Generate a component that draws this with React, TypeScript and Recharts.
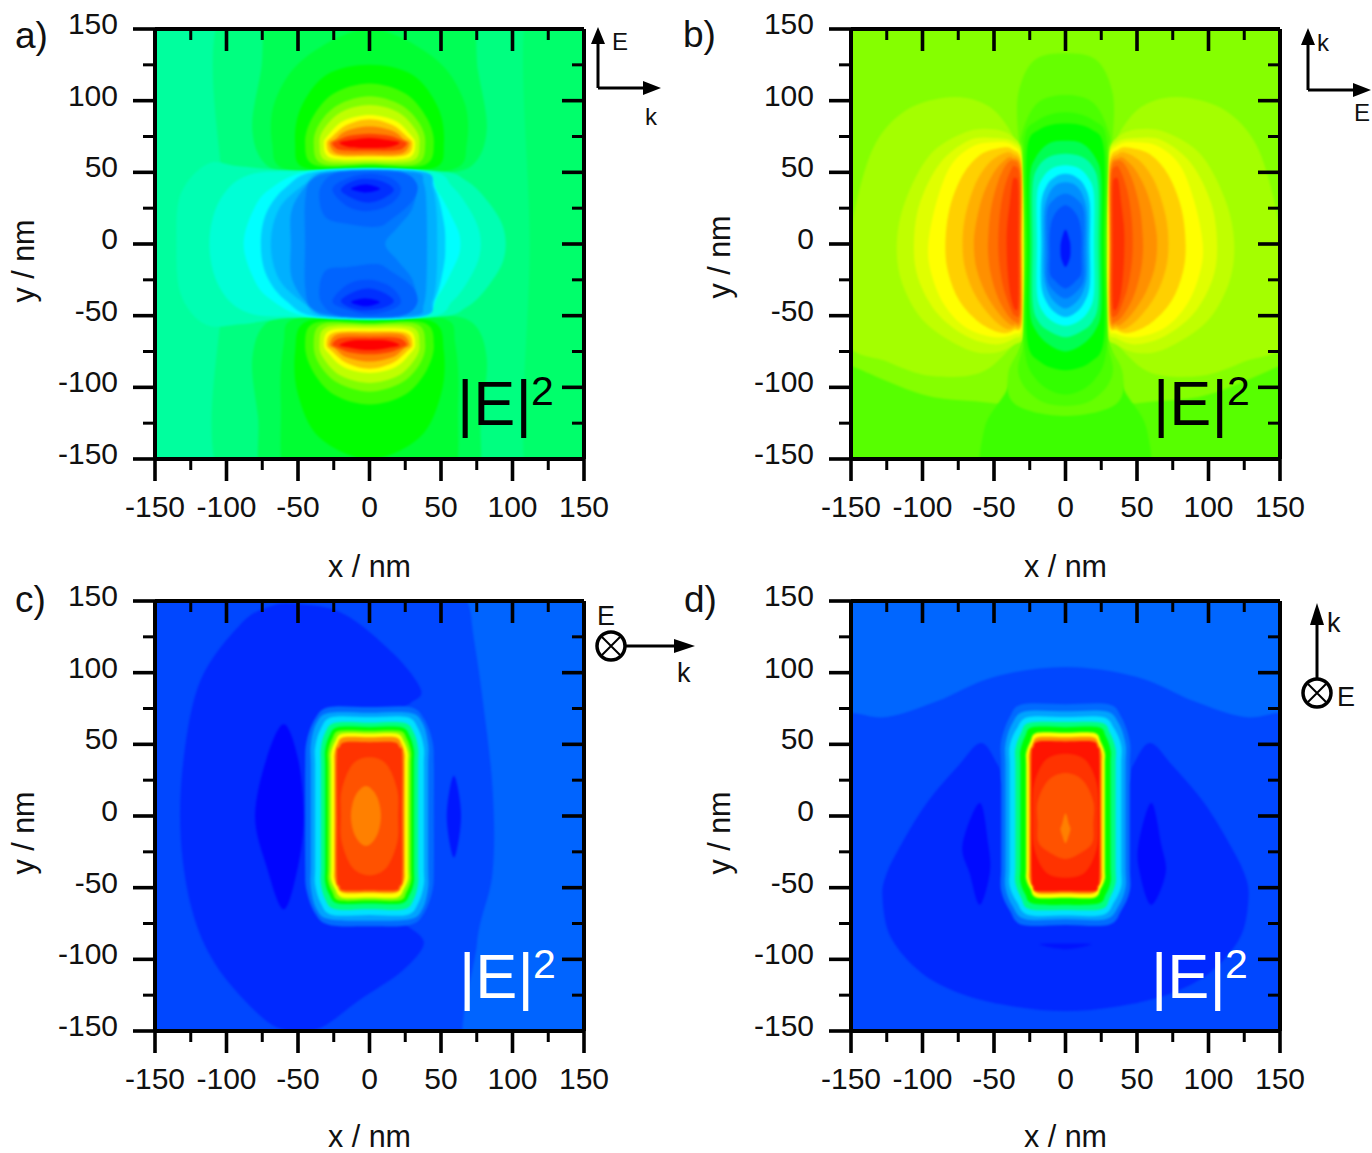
import { ScatterChart, Scatter, XAxis, YAxis } from "recharts";

type Pt = [number, number];

const FONT = "'Liberation Sans', Arial, sans-serif";

const tickValues = [-150, -125, -100, -75, -50, -25, 0, 25, 50, 75, 100, 125, 150];
const axisAnchor = [{ x: -150, y: -150 }, { x: 150, y: 150 }];

// right half of an outline, top to bottom, closed through its left-hand twin
const both = (half: Pt[]): Pt[] => [
  ...half,
  ...half
    .filter(([x]) => x !== 0)
    .reverse()
    .map(([x, y]): Pt => [-x, y]),
];
const flipY = (pts: Pt[]): Pt[] => pts.map(([x, y]): Pt => [x, -y]);
const flipX = (pts: Pt[]): Pt[] => pts.map(([x, y]): Pt => [-x, y]);

const frame: Pt[] = [[-175, 175], [175, 175], [175, -175], [-175, -175]];

// field levels run 0 (blue) to 1 (red); each contour is painted over the one before it

// ---- panel a
const aLobeLevels = [0.5625, 0.625, 0.6875, 0.75, 0.8125, 0.875, 0.9375, 1];
const aLobes: Pt[][] = [
  both([[0, 112], [25, 105], [40, 88], [45, 70], [38, 55], [0, 55]]),
  both([[0, 103], [22, 97], [35, 84], [39, 70], [33, 56], [0, 56]]),
  both([[0, 97], [20, 92], [32, 80], [35, 70], [30, 58], [0, 57]]),
  both([[0, 90], [18, 86], [28, 77], [32, 70], [27, 60], [0, 59]]),
  both([[0, 87], [16, 83], [26, 75], [30, 70], [25, 62], [0, 61]]),
  both([[0, 82], [16, 79], [24, 73], [28, 70], [22, 63], [0, 62.5]]),
  both([[0, 77], [14, 75.5], [23, 72], [26, 70], [20, 65.5], [0, 65]]),
  both([[0, 74], [13, 72.5], [21, 70.5], [13, 67.5], [0, 67]]),
];
const aLevels = [
  0.345, 0.375, 0.395, 0.417, 0.417, 0.45, 0.45, 0.5, 0.5,
  ...aLobeLevels, ...aLobeLevels,
  0.325, 0.29, 0.25, 0.2, 0.1725, 0.141, 0.118,
  0.098, 0.078, 0.047, 0,
  0.098, 0.078, 0.047, 0,
];
const aContours: Pt[][] = [
  frame,
  [[-97, 175], [60, 175], [175, 175], [175, 0], [175, -175], [60, -175], [-98, -175], [-100, 0]],
  [[112, 175], [175, 175], [175, -175], [112, -175], [112, 0]],
  both([[0, 175], [65, 175], [76, 120], [82, 80], [72, 55], [45, 49], [0, 48]]),
  both([[0, -48], [45, -49], [72, -55], [82, -80], [78, -120], [70, -175], [0, -175]]),
  both([[0, 150], [45, 130], [66, 100], [68, 70], [58, 52], [0, 50]]),
  both([[0, -50], [52, -52], [60, -70], [62, -110], [55, -175], [0, -175]]),
  both([[0, 125], [30, 118], [48, 95], [52, 70], [45, 53], [0, 53]]),
  both([[0, -53], [44, -54], [52, -75], [50, -105], [35, -135], [0, -150]]),
  ...aLobes,
  ...aLobes.map(flipY),
  [[-135, 0], [-132, 35], [-113, 56], [-90, 54], [-45, 51], [45, 51], [68, 44], [84, 28], [94, 10], [94, -10], [84, -28], [68, -44], [45, -51], [-45, -51], [-90, -56], [-115, -56], [-132, -35]],
  [[-112, 0], [-105, 30], [-85, 48], [-45, 51], [40, 51], [58, 40], [70, 24], [77, 8], [77, -8], [70, -24], [58, -40], [40, -51], [-45, -51], [-85, -48], [-105, -30]],
  [[-88, 0], [-82, 22], [-70, 38], [-40, 51], [33, 51], [48, 36], [58, 18], [63, 6], [63, -6], [58, -18], [48, -36], [33, -51], [-40, -51], [-70, -38], [-82, -22]],
  [[-76, 0], [-72, 22], [-58, 40], [-35, 51], [34, 51], [46, 38], [52, 15], [53, 0], [52, -15], [46, -38], [34, -51], [-35, -51], [-58, -40], [-72, -22]],
  [[-69, 0], [-63, 25], [-45, 42], [-30, 50], [36, 50], [44, 40], [47, 20], [47, -20], [44, -40], [36, -50], [-30, -50], [-45, -42], [-63, -25]],
  [[-55, 0], [-54, 25], [-40, 45], [-25, 50], [30, 50], [38, 42], [40, 20], [40, -20], [38, -42], [30, -50], [-25, -50], [-40, -45], [-54, -25]],
  [[-45, 0], [-45, 30], [-40, 45], [-20, 50], [20, 50], [32, 42], [30, 25], [20, 12], [11, 0], [20, -12], [30, -25], [32, -42], [20, -50], [-20, -50], [-40, -45], [-45, -30]],
  [[-35, 30], [-30, 18], [-15, 14], [5, 12], [15, 17], [30, 30], [33, 42], [20, 50], [-20, 50], [-33, 42]],
  [[-26, 38], [-15, 26], [0, 23], [15, 28], [22, 38], [15, 46], [0, 49], [-15, 46]],
  [[-20, 38], [-10, 31], [0, 29], [10, 32], [17, 38], [8, 44], [-8, 45]],
  [[-13, 38.5], [-4, 36], [4, 37], [7, 39], [-3, 41.5]],
  [[-35, -30], [-30, -18], [-15, -16], [5, -14], [15, -19], [30, -30], [33, -42], [20, -50], [-20, -50], [-33, -42]],
  [[-26, -40], [-15, -28], [0, -25], [15, -30], [22, -40], [15, -46], [0, -49], [-15, -46]],
  [[-20, -40], [-10, -33], [0, -31], [10, -34], [17, -40], [8, -45], [-8, -46]],
  [[-13, -40.5], [-4, -38], [4, -39], [7, -41], [-3, -43.5]],
];

// ---- panel b
const bLobeLevels = [0.661, 0.688, 0.72, 0.75, 0.796, 0.827, 0.859, 0.89, 0.92, 0.953];
const bLobes: Pt[][] = [
  [[32, 60], [45, 88], [62, 100], [85, 102], [112, 93], [133, 70], [146, 30], [152, -10], [153, -68], [125, -82], [95, -92], [60, -90], [38, -72], [30, -60], [30, 0]],
  [[29, 60], [36, 74], [50, 80], [70, 78], [95, 62], [112, 30], [118, 0], [114, -28], [98, -55], [70, -73], [50, -76], [36, -70], [29, -60], [29, 0]],
  [[29.5, 58], [36, 71], [50, 74], [68, 72], [88, 56], [102, 28], [106, 0], [103, -24], [90, -48], [70, -64], [50, -70], [36, -66], [29.5, -57], [29.5, 0]],
  [[30, 56], [37, 69], [50, 71], [65, 68], [80, 55], [90, 30], [96, 0], [94, -20], [85, -42], [70, -58], [50, -65], [36, -63], [30, -55], [30, 0]],
  [[30.5, 55], [37, 66], [46, 67], [60, 62], [72, 48], [81, 25], [84, 0], [82, -20], [74, -40], [60, -55], [45, -62], [36, -60], [30.5, -54], [30.5, 0]],
  [[31, 53], [37, 63], [44, 63], [54, 56], [63, 42], [70, 20], [72, 0], [70, -18], [63, -36], [52, -51], [42, -59], [36, -58], [31, -53], [31, 0]],
  [[31.5, 52], [37, 60], [42, 59], [50, 50], [58, 33], [63, 12], [64, -3], [62, -18], [56, -34], [47, -48], [39, -56], [35, -56], [31.5, -52], [31.5, 0]],
  [[32, 50], [36, 58], [41, 56], [47, 44], [52, 25], [54, 5], [54, -8], [52, -22], [47, -38], [40, -50], [35, -54], [32, -50], [32, 0]],
  [[32, 46], [35, 54], [38, 52], [43, 38], [46, 20], [47, 0], [46, -16], [43, -32], [38, -46], [35, -50], [32, -46], [32, 0]],
  [[33, 40], [35, 46], [37, 44], [39, 28], [41, 10], [41, -8], [40, -24], [38, -38], [35, -46], [33, -40], [33, 0]],
];
const bLevels = [
  0.585, 0.63, 0.56,
  ...bLobeLevels.flatMap((v) => [v, v]),
  0.6, 0.575, 0.55, 0.5, 0.42, 0.33, 0.25, 0.18, 0.14, 0.11, 0.08, 0.02,
];
const bContours: Pt[][] = [
  frame,
  [[-175, 175], [175, 175], [175, -75], [150, -85], [100, -105], [60, -110], [0, -115], [-60, -110], [-100, -105], [-150, -85], [-175, -75]],
  both([[25, -60], [40, -100], [57, -130], [55, -175], [0, -175]]).concat([[0, -60]]),
  ...bLobes.flatMap((l) => [l, flipX(l)]),
  both([[0, 133], [22, 128], [33, 105], [33, 75], [30, 60], [28, 0], [28, -60], [40, -90], [35, -112], [0, -120]]),
  both([[0, 104], [20, 98], [31, 75], [28, 60], [28, 0], [28, -60], [33, -90], [20, -108], [0, -113]]),
  both([[0, 92], [20, 86], [29, 70], [28, 0], [29, -70], [20, -95], [0, -105]]),
  both([[0, 84], [18, 80], [27, 65], [27, 0], [27, -65], [18, -82], [0, -88]]),
  both([[0, 72], [12, 70], [21, 60], [25, 45], [25, 0], [25, -45], [21, -60], [12, -70], [0, -75]]),
  both([[0, 63], [11, 61], [19, 54], [23, 40], [23, 0], [23, -40], [19, -54], [11, -61], [0, -65]]),
  both([[0, 55], [9, 53], [16, 46], [20, 34], [20, 0], [20, -34], [16, -47], [9, -54], [0, -57]]),
  both([[0, 49], [7, 47], [13, 41], [17, 28], [17, 0], [17, -28], [13, -41], [7, -48], [0, -51]]),
  both([[0, 43], [7, 41], [12, 34], [15, 22], [15, 0], [15, -22], [12, -34], [7, -41], [0, -45]]),
  both([[0, 35], [8, 31], [13, 22], [13, -5], [13, -24], [8, -33], [0, -38]]),
  both([[0, 27], [8, 20], [11, 8], [11, -8], [11, -20], [8, -25], [0, -31]]),
  both([[0, 10], [3, 2], [3.5, -4], [3, -10], [0, -16]]),
];

// ---- panel c
const cLevels = [0.07, 0.098, 0.04, 0.005, 0.022, 0.105, 0.16, 0.22, 0.375, 0.5, 0.62, 0.75, 0.86, 0.95, 0.92, 0.875];
const cContours: Pt[][] = [
  frame,
  [[71, 175], [175, 175], [175, -175], [72, -175], [75, -90], [86, -40], [86, 20], [78, 90], [71, 140]],
  [[-52, 148], [-18, 141], [17, 113], [36, 88], [29, 79], [24, 76], [10, 65], [0, 40], [0, -40], [10, -65], [24, -74], [27, -77], [38, -89], [23, -108], [-8, -129], [-35, -148], [-60, -149], [-80, -136], [-108, -103], [-124, -66], [-132, -15], [-130, 40], [-118, 95], [-90, 134], [-70, 146]],
  [[-60, 64], [-50, 40], [-46, 0], [-50, -35], [-60, -65], [-72, -35], [-80, 0], [-72, 40]],
  [[59, 28], [64, 0], [59, -29], [54, 0]],
  both([[0, 76], [28, 76], [38, 68], [44, 52], [45, 35], [45, 0], [45, -35], [44, -52], [38, -68], [28, -76], [0, -77]]),
  both([[0, 72], [28, 72], [37, 65], [41, 50], [41, 35], [41, 0], [41, -35], [41, -50], [37, -65], [28, -72], [0, -73]]),
  both([[0, 69], [26, 69], [34, 61], [38, 48], [38, 35], [38, 0], [38, -35], [38, -48], [34, -61], [26, -69], [0, -69]]),
  both([[0, 65], [24, 65], [31, 58], [34, 47], [34, 35], [34, 0], [34, -35], [34, -47], [31, -58], [24, -65], [0, -65]]),
  both([[0, 62], [22, 62], [28, 56], [31, 46], [31, 35], [31, 0], [31, -35], [31, -46], [28, -55], [22, -61], [0, -61]]),
  both([[0, 59.5], [21, 59.5], [26, 54], [29, 45], [29, 35], [29, 0], [29, -35], [29, -45], [26, -53], [21, -59], [0, -59]]),
  both([[0, 57.5], [19, 57.5], [24, 52], [27, 44], [27, 35], [27, 0], [27, -35], [27, -44], [24, -51], [19, -57], [0, -57]]),
  both([[0, 55], [18, 55], [22.5, 50], [24.5, 43], [24.5, 35], [24.5, 0], [24.5, -35], [24.5, -43], [22.5, -49], [18, -53.5], [0, -53.5]]),
  both([[0, 51.5], [17, 51.5], [21, 48], [23, 42], [23, 0], [23, -42], [21, -49], [18, -52], [0, -52]]),
  both([[0, 41], [12, 36], [19.5, 18], [20, 0], [19.5, -18], [12, -36], [0, -41.5]]),
  [[-2.5, 21], [5, 14], [8, 0], [5, -14], [-2.5, -21], [-10, -14], [-13, 0], [-10, 14]],
];

// ---- panel d
const dLevels = [0.07, 0.1, 0.04, 0.01, 0.01, 0.02, 0.105, 0.16, 0.22, 0.375, 0.5, 0.75, 0.86, 0.98, 0.95, 0.92, 0.875];
const dContours: Pt[][] = [
  frame,
  [[-175, 72], [-150, 72], [-125, 69], [-90, 80], [-50, 97], [0, 104], [50, 97], [90, 80], [125, 69], [150, 72], [175, 72], [175, 175], [-175, 175]],
  both([[0, 20], [40, 20], [47, 35], [59, 51], [75, 35], [97, 9], [115, -20], [125, -40], [128, -57], [122, -85], [100, -110], [70, -125], [35, -133], [0, -136]]),
  [[-60, 9], [-54, -20], [-53, -40], [-60, -62], [-67, -40], [-72, -20]],
  [[60, 9], [67, -20], [70, -40], [60, -62], [52, -40], [51, -20]],
  [[-18, -89.5], [0, -89], [18, -89.5], [0, -93]],
  both([[0, 78], [30, 78], [39, 69], [45, 52], [45, 35], [45, 0], [45, -35], [45, -52], [39, -66], [30, -76], [0, -76]]),
  both([[0, 73], [28, 73], [37, 65], [42, 50], [42, 35], [42, 0], [42, -35], [42, -50], [37, -63], [28, -72], [0, -72]]),
  both([[0, 69], [26, 69], [34, 61], [39, 49], [39, 35], [39, 0], [39, -35], [39, -49], [34, -60], [26, -69], [0, -69.5]]),
  both([[0, 65.5], [25, 65], [31, 58], [35, 47], [35, 35], [35, 0], [35, -35], [35, -47], [31, -57], [25, -65], [0, -65.5]]),
  both([[0, 62], [23, 62], [28, 56], [31.5, 46], [31.5, 35], [31.5, 0], [31.5, -35], [31.5, -46], [28, -55], [23, -61], [0, -62]]),
  both([[0, 58], [20, 58], [24.5, 52], [27.5, 44], [27.5, 35], [27.5, 0], [27.5, -35], [27.5, -44], [24.5, -51], [20, -57], [0, -57]]),
  both([[0, 55], [19, 55], [23, 50], [25.5, 43], [25.5, 35], [25.5, 0], [25.5, -35], [25.5, -43], [23, -49], [19, -54], [0, -54]]),
  both([[0, 52], [19, 52], [22.5, 48], [24, 42], [24, 0], [24, -42], [22.5, -49], [20, -52.5], [0, -52.5]]),
  both([[0, 43.5], [14, 39], [22, 22], [23, 0], [22, -22], [14, -39], [0, -43]]),
  both([[0, 30], [12, 25], [19.5, 10], [19.5, -5], [19, -18], [12, -25], [0, -30]]),
  both([[0, 2], [2.5, -6], [3.5, -9], [2.5, -13], [0, -19]]),
];

const panels = [
  { id: "a", left: 0, top: 0, yTitle: 232, xTitle: 118, levels: aLevels, contours: aContours },
  { id: "b", left: 696, top: 0, yTitle: 228, xTitle: 118, levels: bLevels, contours: bContours },
  { id: "c", left: 0, top: 572, yTitle: 232, xTitle: 115.5, levels: cLevels, contours: cContours },
  { id: "d", left: 696, top: 572, yTitle: 232, xTitle: 115.5, levels: dLevels, contours: dContours },
];

// blue - cyan - green - yellow - red, the map the figure uses
const levelColor = (t: number) => {
  const c = (v: number) => Math.round(Math.max(0, Math.min(1, v)) * 255);
  if (t < 0.25) return `rgb(0,${c(t / 0.25)},255)`;
  if (t < 0.5) return `rgb(0,255,${c((0.5 - t) / 0.25)})`;
  if (t < 0.75) return `rgb(${c((t - 0.5) / 0.25)},255,0)`;
  return `rgb(255,${c((1 - t) / 0.25)},0)`;
};

// closed Catmull-Rom through the scaled outline points
const closedPath = (pts: { x: number; y: number }[]) => {
  const n = pts.length;
  let d = `M${pts[0].x},${pts[0].y}`;
  for (let i = 0; i < n; i++) {
    const p0 = pts[(i - 1 + n) % n];
    const p1 = pts[i];
    const p2 = pts[(i + 1) % n];
    const p3 = pts[(i + 2) % n];
    d += `C${p1.x + (p2.x - p0.x) / 6},${p1.y + (p2.y - p0.y) / 6} ${p2.x - (p3.x - p1.x) / 6},${p2.y - (p3.y - p1.y) / 6} ${p2.x},${p2.y}`;
  }
  return d + "Z";
};

const contourFill = (color: string) => (props: any) => (
  <path d={closedPath(props.points)} fill={color} stroke="none" style={{ filter: "blur(1px)" }} />
);

const NoDot = () => <g />;

const isMajor = (v: number) => v % 50 === 0;
const tickStroke = (v: number) => (isMajor(v) ? 3.6 : 3);

const BottomTick = ({ x, y, payload }: any) => (
  <g>
    <line x1={x} x2={x} y1={y} y2={y + (isMajor(payload.value) ? 22 : 11)} stroke="#000" strokeWidth={tickStroke(payload.value)} />
    {isMajor(payload.value) && (
      <text x={x} y={y + 58} textAnchor="middle" fontFamily={FONT} fontSize={30} fill="#111">
        {payload.value}
      </text>
    )}
  </g>
);
const TopTick = ({ x, y, payload }: any) => (
  <line x1={x} x2={x} y1={y} y2={y + (isMajor(payload.value) ? 22 : 11)} stroke="#000" strokeWidth={tickStroke(payload.value)} />
);
const LeftTick = ({ x, y, payload }: any) => (
  <g>
    <line x1={x} x2={x - (isMajor(payload.value) ? 22 : 12)} y1={y} y2={y} stroke="#000" strokeWidth={tickStroke(payload.value)} />
    {isMajor(payload.value) && (
      <text x={x - 37} y={y + 5} textAnchor="end" fontFamily={FONT} fontSize={30} fill="#111">
        {payload.value}
      </text>
    )}
  </g>
);
const RightTick = ({ x, y, payload }: any) => (
  <line x1={x} x2={x - (isMajor(payload.value) ? 22 : 12)} y1={y} y2={y} stroke="#000" strokeWidth={tickStroke(payload.value)} />
);

const axisLine = { stroke: "#000", strokeWidth: 4 };
const chartSize = { width: 676, height: 590 };
const layer = { position: "absolute", left: 0, top: 0 } as const;

// filled contours underneath, drawn through hidden axes with the same plot box
const ContourLayer = ({ levels, contours }: { levels: number[]; contours: Pt[][] }) => (
  <ScatterChart {...chartSize} margin={{ top: 29, right: 92, bottom: 131, left: 155 }}>
    <XAxis xAxisId="bottom" dataKey="x" type="number" domain={[-150, 150]} allowDataOverflow hide />
    <YAxis yAxisId="left" dataKey="y" type="number" domain={[-150, 150]} allowDataOverflow hide />
    {contours.map((pts, i) => (
      <Scatter
        key={i}
        xAxisId="bottom"
        yAxisId="left"
        data={pts.map(([x, y]) => ({ x, y }))}
        line={contourFill(levelColor(levels[i]))}
        shape={NoDot}
        isAnimationActive={false}
      />
    ))}
  </ScatterChart>
);

// the frame and its ticks sit on top of the contours
const AxisLayer = ({ yTitle, xTitle }: { yTitle: number; xTitle: number }) => (
  <ScatterChart {...chartSize} margin={{ top: 28, right: 91, bottom: 0, left: 0 }}>
    <Scatter xAxisId="bottom" yAxisId="left" data={axisAnchor} shape={NoDot} isAnimationActive={false} />
    <Scatter xAxisId="top" yAxisId="right" data={axisAnchor} shape={NoDot} isAnimationActive={false} />
    <XAxis
      xAxisId="bottom"
      dataKey="x"
      type="number"
      orientation="bottom"
      domain={[-150, 150]}
      ticks={tickValues}
      interval={0}
      height={131}
      tickSize={0}
      tickMargin={0}
      tickLine={false}
      axisLine={axisLine}
      tick={BottomTick}
      label={({ viewBox }: any) => (
        <text x={viewBox.x + viewBox.width / 2} y={viewBox.y + xTitle} textAnchor="middle" fontFamily={FONT} fontSize={30.5} fill="#111">
          x / nm
        </text>
      )}
    />
    <XAxis
      xAxisId="top"
      dataKey="x"
      type="number"
      orientation="top"
      domain={[-150, 150]}
      ticks={tickValues}
      interval={0}
      height={1}
      tickSize={0}
      tickMargin={0}
      tickLine={false}
      axisLine={axisLine}
      tick={TopTick}
    />
    <YAxis
      yAxisId="left"
      dataKey="y"
      type="number"
      orientation="left"
      domain={[-150, 150]}
      ticks={tickValues}
      interval={0}
      width={155}
      tickSize={0}
      tickMargin={0}
      tickLine={false}
      axisLine={axisLine}
      tick={LeftTick}
      label={({ viewBox }: any) => (
        <text
          transform={`translate(${viewBox.x + 33.5},${viewBox.y + yTitle}) rotate(-90)`}
          textAnchor="middle"
          fontFamily={FONT}
          fontSize={30.5}
          fill="#111"
        >
          y / nm
        </text>
      )}
    />
    <YAxis
      yAxisId="right"
      dataKey="y"
      type="number"
      orientation="right"
      domain={[-150, 150]}
      ticks={tickValues}
      interval={0}
      width={1}
      tickSize={0}
      tickMargin={0}
      tickLine={false}
      axisLine={axisLine}
      tick={RightTick}
    />
  </ScatterChart>
);

const Note = ({ x, y, size, fill = "#111", children }: any) => (
  <text x={x} y={y} fontFamily={FONT} fontSize={size} fill={fill}>
    {children}
  </text>
);

const FieldLabel = ({ x, y, fill }: { x: number; y: number; fill: string }) => (
  <g>
    <Note x={x} y={y} size={63} fill={fill}>
      |E|
    </Note>
    <Note x={x + 74} y={y - 20} size={41} fill={fill}>
      2
    </Note>
  </g>
);

const Shaft = ({ d }: { d: string }) => <path d={d} stroke="#000" strokeWidth={3} fill="none" />;

const OutOfPlane = ({ cx, cy }: { cx: number; cy: number }) => (
  <g stroke="#000" fill="#fff">
    <circle cx={cx} cy={cy} r={14} strokeWidth={3.5} />
    <path d={`M${cx - 9},${cy - 9}L${cx + 9},${cy + 9}M${cx + 9},${cy - 9}L${cx - 9},${cy + 9}`} strokeWidth={2} fill="none" />
  </g>
);

// panel letters, polarisation arrows and the |E|2 tags
const Annotations = () => (
  <svg width={1372} height={1153} style={{ position: "absolute", left: 0, top: 0, pointerEvents: "none" }}>
    <Note x={15} y={48} size={37}>a)</Note>
    <Note x={683} y={47} size={37}>b)</Note>
    <Note x={15} y={612} size={37}>c)</Note>
    <Note x={684} y={612} size={37}>d)</Note>

    <FieldLabel x={457} y={425} fill="#000" />
    <FieldLabel x={1153} y={425} fill="#000" />
    <FieldLabel x={459} y={998} fill="#fff" />
    <FieldLabel x={1151} y={998} fill="#fff" />

    <Shaft d="M598,88V40M598,88H645" />
    <path d="M598,27L591,44H605ZM661,88L643,81V95Z" fill="#000" />
    <Note x={612} y={50} size={24}>E</Note>
    <Note x={645} y={125} size={24}>k</Note>

    <Shaft d="M1308,90V40M1308,90H1356" />
    <path d="M1308,28L1301,45H1315ZM1371,90L1353,83V97Z" fill="#000" />
    <Note x={1317} y={51} size={24}>k</Note>
    <Note x={1354} y={121} size={24}>E</Note>

    <Shaft d="M625,646H676" />
    <path d="M695,646L674,639V653Z" fill="#000" />
    <OutOfPlane cx={611} cy={646} />
    <Note x={597} y={625} size={27}>E</Note>
    <Note x={677} y={682} size={27}>k</Note>

    <Shaft d="M1317,679V622" />
    <path d="M1317,603L1310,625H1324Z" fill="#000" />
    <OutOfPlane cx={1317} cy={693} />
    <Note x={1327} y={632} size={27}>k</Note>
    <Note x={1337} y={706} size={27}>E</Note>
  </svg>
);

export default function App() {
  return (
    <div style={{ position: "absolute", left: 0, top: 0, width: 1372, height: 1153, overflow: "hidden", background: "#fff" }}>
      {panels.map((p) => (
        <div key={p.id} style={{ position: "absolute", left: p.left, top: p.top }}>
          <div style={layer}>
            <ContourLayer levels={p.levels} contours={p.contours} />
          </div>
          <div style={layer}>
            <AxisLayer yTitle={p.yTitle} xTitle={p.xTitle} />
          </div>
        </div>
      ))}
      <Annotations />
    </div>
  );
}
